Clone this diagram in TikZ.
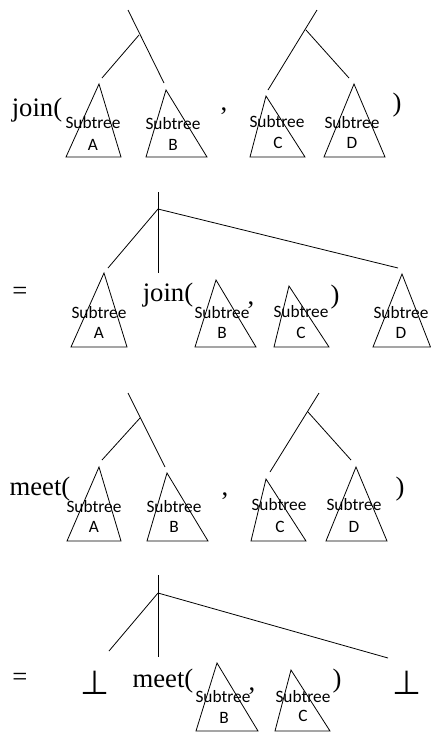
\documentclass[tikz,border=0pt]{standalone}
\usepackage{fontspec}
\setmainfont{Liberation Serif}
\newfontfamily\calibri{Carlito}
\newfontfamily\symb{DejaVu Sans}
\begin{document}
\begin{tikzpicture}[x=0.75pt, y=-0.75pt, line width=0.6pt,
    word/.style={inner sep=0pt, font=\fontsize{20}{24}\selectfont},
    bot/.style={inner sep=0pt, font=\symb\fontsize{25}{28}\selectfont},
    subt/.style={inner sep=0pt, font=\calibri\fontsize{13}{15}\selectfont}]
    \useasboundingbox (0,0) rectangle (431,733);

    % join( A B , C D )
    \node[word] (join1) at (37,110) {join(};
    \node[word] (comma1) at (224,111) {,};
    \node[word] (close1) at (397,105) {)};
    \coordinate (top1) at (128,10);
    \coordinate (br1) at (139,35);
    \coordinate (endA1) at (102,78);
    \coordinate (endB1) at (164,83);
    \draw (top1) -- (endB1);
    \draw (br1) -- (endA1);
    \coordinate (top2) at (317,10);
    \coordinate (br2) at (306,30);
    \coordinate (endC1) at (268,90);
    \coordinate (endD1) at (349,78);
    \draw (top2) -- (endC1);
    \draw (br2) -- (endD1);
    \draw (99,84) -- (66,157) -- (121,157) -- cycle;
    \node[subt] (sA1) at (93,123) {Subtree};
    \node[subt] (lA1) at (93,145) {A};
    \draw (166,90) -- (146,157) -- (207,157) -- cycle;
    \node[subt] (sB1) at (173,124) {Subtree};
    \node[subt] (lB1) at (173,145) {B};
    \draw (266,96) -- (250,157) -- (305,157) -- cycle;
    \node[subt] (sC1) at (277,122) {Subtree};
    \node[subt] (lC1) at (278,143) {C};
    \draw (354,84) -- (324,157) -- (385,157) -- cycle;
    \node[subt] (sD1) at (352,123) {Subtree};
    \node[subt] (lD1) at (352,143) {D};

    % = A join( B , C ) D
    \node[word] (eq1) at (20,293) {=};
    \node[word] (join2) at (168,295) {join(};
    \node[word] (comma2) at (251,305) {,};
    \node[word] (close2) at (335,297) {)};
    \coordinate (top3) at (158,192);
    \coordinate (br3) at (158,209);
    \coordinate (endA2) at (108,268);
    \coordinate (endJ2) at (158,273);
    \coordinate (endD2) at (398,268);
    \draw (top3) -- (endJ2);
    \draw (br3) -- (endA2);
    \draw (br3) -- (endD2);
    \draw (104,273) -- (71,347) -- (127,347) -- cycle;
    \node[subt] (sA2) at (99,313) {Subtree};
    \node[subt] (lA2) at (99,333) {A};
    \draw (216,280) -- (195,347) -- (256,347) -- cycle;
    \node[subt] (sB2) at (222,313) {Subtree};
    \node[subt] (lB2) at (222,333) {B};
    \draw (289,286) -- (274,347) -- (329,347) -- cycle;
    \node[subt] (sC2) at (301,312) {Subtree};
    \node[subt] (lC2) at (301,333) {C};
    \draw (402,274) -- (373,347) -- (430.5,347) -- cycle;
    \node[subt] (sD2) at (401,313) {Subtree};
    \node[subt] (lD2) at (401,333) {D};

    % meet( A B , C D )
    \node[word] (meet1) at (40,489) {meet(};
    \node[word] (comma3) at (225,496) {,};
    \node[word] (close3) at (400,489) {)};
    \coordinate (top4) at (128,393);
    \coordinate (br4) at (140,418);
    \coordinate (endA3) at (102,460);
    \coordinate (endB3) at (165,467);
    \draw (top4) -- (endB3);
    \draw (br4) -- (endA3);
    \coordinate (top5) at (319,393);
    \coordinate (br5) at (308,412);
    \coordinate (endC3) at (270,472);
    \coordinate (endD3) at (351,460);
    \draw (top5) -- (endC3);
    \draw (br5) -- (endD3);
    \draw (99,467) -- (67,541) -- (121,541) -- cycle;
    \node[subt] (sA3) at (94,507) {Subtree};
    \node[subt] (lA3) at (94,527) {A};
    \draw (167,473) -- (147,541) -- (208,541) -- cycle;
    \node[subt] (sB3) at (174,507) {Subtree};
    \node[subt] (lB3) at (174,527) {B};
    \draw (266,479) -- (251,541) -- (306,541) -- cycle;
    \node[subt] (sC3) at (279,505) {Subtree};
    \node[subt] (lC3) at (280,527) {C};
    \draw (356,467) -- (326,541) -- (387,541) -- cycle;
    \node[subt] (sD3) at (354,505) {Subtree};
    \node[subt] (lD3) at (354,527) {D};

    % = bottom meet( B , C ) bottom
    \node[word] (eq2) at (20,679) {=};
    \node[bot] (bot1) at (95,683) {⊥};
    \node[word] (meet2) at (163,681) {meet(};
    \node[word] (comma4) at (252,691) {,};
    \node[word] (close4) at (337,681) {)};
    \node[bot] (bot2) at (407,683) {⊥};
    \coordinate (top6) at (158,575);
    \coordinate (br6) at (158,593);
    \coordinate (endL4) at (109,651);
    \coordinate (endM4) at (158,657);
    \coordinate (endR4) at (388,658);
    \draw (top6) -- (endM4);
    \draw (br6) -- (endL4);
    \draw (br6) -- (endR4);
    \draw (217,663) -- (196,731) -- (258,731) -- cycle;
    \node[subt] (sB4) at (223,697) {Subtree};
    \node[subt] (lB4) at (224,718) {B};
    \draw (291,670) -- (275,731) -- (330,731) -- cycle;
    \node[subt] (sC4) at (303,697) {Subtree};
    \node[subt] (lC4) at (303,716) {C};
\end{tikzpicture}
\end{document}
